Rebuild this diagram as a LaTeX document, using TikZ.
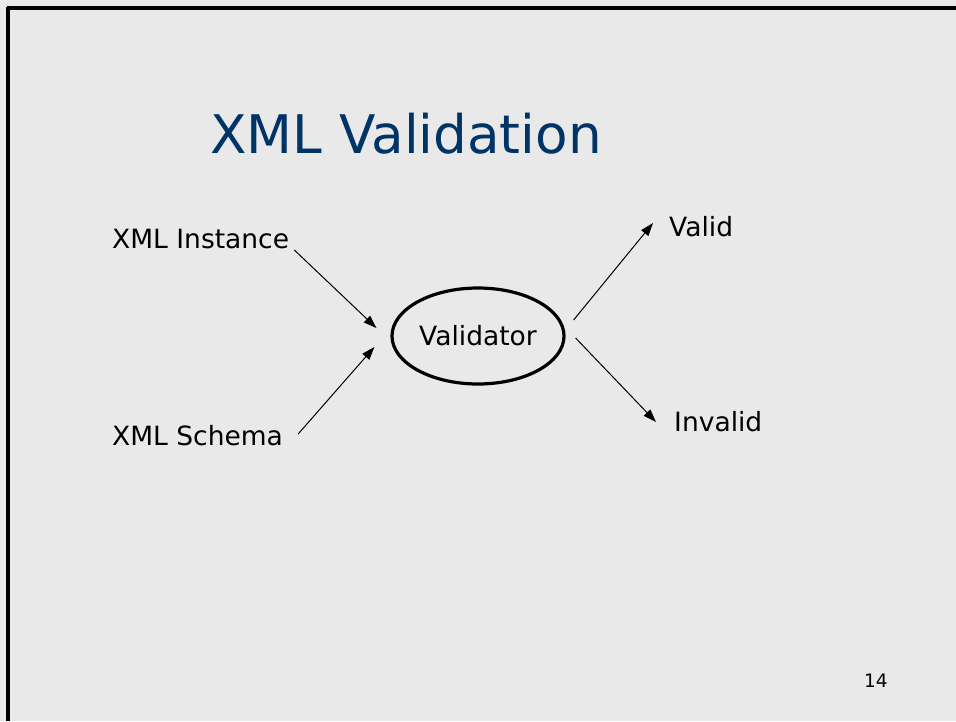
\documentclass[tikz,border=0pt]{standalone}
\usepackage{fontspec}
\setmainfont{DejaVu Sans}
\usepackage{tikz}
\usetikzlibrary{arrows.meta}
\usetikzlibrary{shapes.geometric}
\definecolor{slidebg}{RGB}{233,233,233}
\definecolor{titleblue}{RGB}{0,51,102}
\tikzset{lbl/.style = {inner sep = 0, anchor = base west, font = \fontsize{26.5}{30}\selectfont}}
\tikzset{arr/.style = {-{Triangle[length = 13pt, width = 9pt]}, line width = 1pt}}

\begin{document}
\begin{tikzpicture}[x = 1pt, y = -1pt]
    \fill [slidebg] (0, 0) rectangle (956, 721);
    \useasboundingbox (0, 0) rectangle (956, 721);
    \draw [line width = 3.5pt] (7, 8) -- (956, 8);
    \draw [line width = 3.5pt] (8, 7) -- (8, 721);

    \node [inner sep = 0, anchor = base west, text = titleblue, font = \fontsize{53.2}{60}\selectfont] (title) at (210, 153) {XML Validation};

    \node [ellipse, draw, line width = 3.2pt, inner sep = 0, minimum width = 172, minimum height = 96, font = \fontsize{26.5}{30}\selectfont] (val) at (478, 336) {Validator};

    \node [lbl] (inst) at (112, 248) {XML Instance};
    \node [lbl] (schema) at (112, 445) {XML Schema};
    \node [lbl] (valid) at (669, 236) {Valid};
    \node [lbl] (invalid) at (674, 431) {Invalid};
    \node [inner sep = 0, anchor = base west, font = \fontsize{18.5}{20}\selectfont] (page) at (864, 687) {14};

    \draw [arr] ([shift = {(5, 2)}] inst.base east) -- ([shift = {(-14, -8)}] val.west);
    \draw [arr] ([shift = {(15, -11)}] schema.base east) -- ([shift = {(-16, 11)}] val.west);
    \draw [arr] ([shift = {(8, -16)}] val.east) -- ([shift = {(-16, -13)}] valid.base west);
    \draw [arr] ([shift = {(10, 2)}] val.east) -- ([shift = {(-18, -9)}] invalid.base west);
  \end{tikzpicture}
\end{document}
